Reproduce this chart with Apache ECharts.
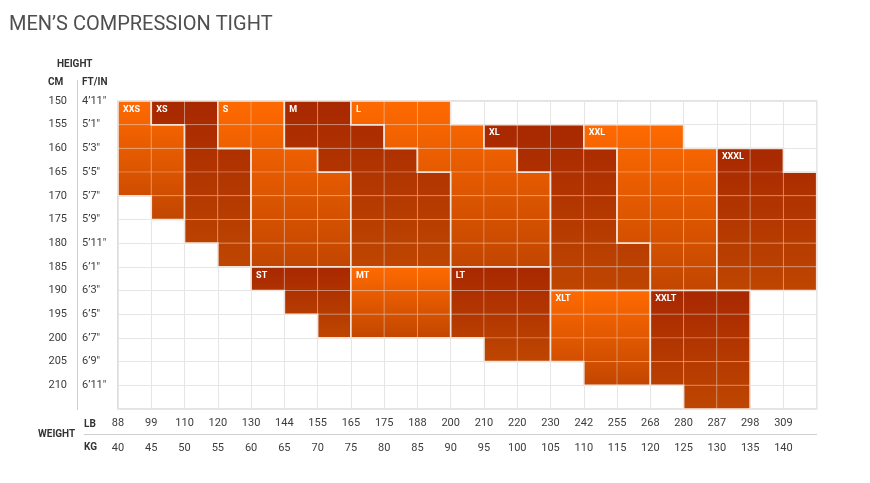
<!DOCTYPE html>
<html><head><meta charset="utf-8">
<script src="https://cdn.jsdelivr.net/npm/echarts@6/dist/echarts.min.js"></script>
<style>html,body{margin:0;padding:0;background:#fff}#c{width:870px;height:483px}</style>
</head><body><div id="c"></div>
<script>
// Tick labels
const lbLabels = [88,99,110,120,130,144,155,165,175,188,200,210,220,230,242,255,268,280,287,298,309];
const kgLabels = [40,45,50,55,60,65,70,75,80,85,90,95,100,105,110,115,120,125,130,135,140];
const cmLabels = [150,155,160,165,170,175,180,185,190,195,200,205,210];
const ftLabels = ['4’11″','5’1″','5’3″','5’5″','5’7″','5’9″','5’11″','6’1″','6’3″','6’5″','6’7″','6’9″','6’11″'];

// Size regions: each span = [heightRow, firstWeightCol, lastWeightCol]
const XXS  = [[0,0,0],[1,0,1],[2,0,1],[3,0,1],[4,1,1]];
const XS   = [[0,1,2],[1,2,2],[2,2,3],[3,2,3],[4,2,3],[5,2,3],[6,3,3]];
const S    = [[0,3,4],[1,3,4],[2,4,5],[3,4,6],[4,4,6],[5,4,6],[6,4,6]];
const M    = [[0,5,6],[1,5,7],[2,6,8],[3,7,9],[4,7,9],[5,7,9],[6,7,9]];
const L    = [[0,7,9],[1,8,10],[2,9,11],[3,10,12],[4,10,12],[5,10,12],[6,10,12]];
const XL   = [[1,11,13],[2,12,14],[3,13,14],[4,13,14],[5,13,14],[6,13,15],[7,13,15]];
const XXL  = [[1,14,16],[2,15,17],[3,15,17],[4,15,17],[5,15,17],[6,16,17],[7,16,17]];
const XXXL = [[2,18,19],[3,18,20],[4,18,20],[5,18,20],[6,18,20],[7,18,20]];
const ST   = [[7,4,6],[8,5,6],[9,6,6]];
const MT   = [[7,7,9],[8,7,9],[9,7,9]];
const LT   = [[7,10,12],[8,10,12],[9,10,12],[10,11,12]];
const XLT  = [[8,13,15],[9,13,15],[10,13,15],[11,14,15]];
const XXLT = [[8,16,18],[9,16,18],[10,16,18],[11,16,18],[12,17,18]];

const sizeNames = ['XXS','XS','S','M','L','XL','XXL','XXXL','ST','MT','LT','XLT','XXLT'];
const sizeSpans = [XXS,XS,S,M,L,XL,XXL,XXXL,ST,MT,LT,XLT,XXLT];
const sizeTone  = ['bright','dark','bright','dark','bright','dark','bright','dark','dark','bright','dark','bright','dark'];

const tones = {
  bright: [{offset:0,color:'#ff6a00'},{offset:1,color:'#c24600'}],
  dark:   [{offset:0,color:'#a82800'},{offset:1,color:'#be4600'}]
};

const FONT = 'Roboto, "Noto Sans", sans-serif';

function renderItem(params, api) {
  const i = params.dataIndex;
  const sp = sizeSpans[i];
  const pt = (c, r) => api.coord([c, r]);
  const r0 = sp[0][0], rn = sp[sp.length - 1][0];
  const yTop = pt(0, r0)[1], yBot = pt(0, rn + 1)[1];
  const grad = {type:'linear', x:0, y:yTop, x2:0, y2:yBot, global:true, colorStops: tones[sizeTone[i]]};
  const children = [];
  sp.forEach(([r, a, b]) => {
    for (let c = a; c <= b; c++) {
      const p0 = pt(c, r), p1 = pt(c + 1, r + 1);
      children.push({type:'rect', shape:{x:p0[0], y:p0[1], width:p1[0]-p0[0], height:p1[1]-p0[1]},
        style:{fill:grad, stroke:'rgba(235,225,220,0.28)', lineWidth:1}});
    }
  });
  const pts = [];
  sp.forEach(([r, a, b]) => { pts.push(pt(b + 1, r)); pts.push(pt(b + 1, r + 1)); });
  for (let k = sp.length - 1; k >= 0; k--) { const [r, a] = sp[k]; pts.push(pt(a, r + 1)); pts.push(pt(a, r)); }
  children.push({type:'polygon', shape:{points:pts}, style:{fill:null, stroke:'#f0e3db', lineWidth:1.6}});
  const lp = pt(sp[0][1], r0);
  children.push({type:'text', x: lp[0] + 5, y: lp[1] + 8.5,
    style:{text:sizeNames[i], fill:'#ffffff', font:'bold 9px ' + FONT, verticalAlign:'middle', align:'left'}});
  return {type:'group', children};
}

const chart = echarts.init(document.getElementById('c'), null, {renderer:'canvas'});
const axisText = {color:'#3c3c3c', fontSize:11, fontFamily:FONT};
chart.setOption({
  animation:false,
  backgroundColor:'#ffffff',
  grid:{left:118, top:101, right:53.3, bottom:74, show:true, borderColor:'#c8c8c8', borderWidth:1.2},
  xAxis:[
    {type:'value', min:0, max:21, interval:1, position:'bottom',
     axisLine:{show:false}, axisTick:{show:false},
     splitLine:{show:true, lineStyle:{color:'#e6e6e6', width:1}},
     axisLabel:Object.assign({margin:9, formatter:v => lbLabels[v] !== undefined ? String(lbLabels[v]) : ''}, axisText)},
    {type:'value', min:0, max:21, interval:1, position:'bottom', offset:25,
     axisLine:{show:false}, axisTick:{show:false}, splitLine:{show:false},
     axisLabel:Object.assign({margin:9, formatter:v => kgLabels[v] !== undefined ? String(kgLabels[v]) : ''}, axisText)}
  ],
  yAxis:[
    {type:'value', min:0, max:13, interval:1, inverse:true, position:'left',
     axisLine:{show:false}, axisTick:{show:false},
     splitLine:{show:true, lineStyle:{color:'#e6e6e6', width:1}},
     axisLabel:Object.assign({margin:51, formatter:v => cmLabels[v] !== undefined ? String(cmLabels[v]) : ''}, axisText)},
    {type:'value', min:0, max:13, interval:1, inverse:true, position:'left',
     axisLine:{show:false}, axisTick:{show:false}, splitLine:{show:false},
     axisLabel:Object.assign({margin:36, align:'left', formatter:v => ftLabels[v] !== undefined ? ftLabels[v] : ''}, axisText)}
  ],
  series:[{
    type:'custom', xAxisIndex:0, yAxisIndex:0,
    renderItem: renderItem,
    data: sizeNames.map((n, i) => [i, 0]),
    encode:{x:0, y:1},
    silent:true
  }],
  graphic:[
    {type:'text', left:9, top:15, style:{text:'MEN’S COMPRESSION TIGHT', fill:'#4f4f4f', font:'20px ' + FONT}},
    {type:'text', x:57, y:64, style:{text:'HEIGHT', fill:'#333', font:'bold 10px ' + FONT, verticalAlign:'middle'}},
    {type:'text', x:48, y:82, style:{text:'CM', fill:'#333', font:'bold 10px ' + FONT, verticalAlign:'middle'}},
    {type:'text', x:82, y:82, style:{text:'FT/IN', fill:'#333', font:'bold 10px ' + FONT, verticalAlign:'middle'}},
    {type:'line', shape:{x1:77.5, y1:80, x2:77.5, y2:410}, style:{stroke:'#cfcfcf', lineWidth:1}},
    {type:'text', x:38, y:434, style:{text:'WEIGHT', fill:'#333', font:'bold 10px ' + FONT, verticalAlign:'middle'}},
    {type:'text', x:84, y:424, style:{text:'LB', fill:'#333', font:'bold 10px ' + FONT, verticalAlign:'middle'}},
    {type:'text', x:84, y:447, style:{text:'KG', fill:'#333', font:'bold 10px ' + FONT, verticalAlign:'middle'}},
    {type:'line', shape:{x1:84, y1:434.5, x2:817, y2:434.5}, style:{stroke:'#cfcfcf', lineWidth:1}}
  ]
});
</script>
</body></html>
